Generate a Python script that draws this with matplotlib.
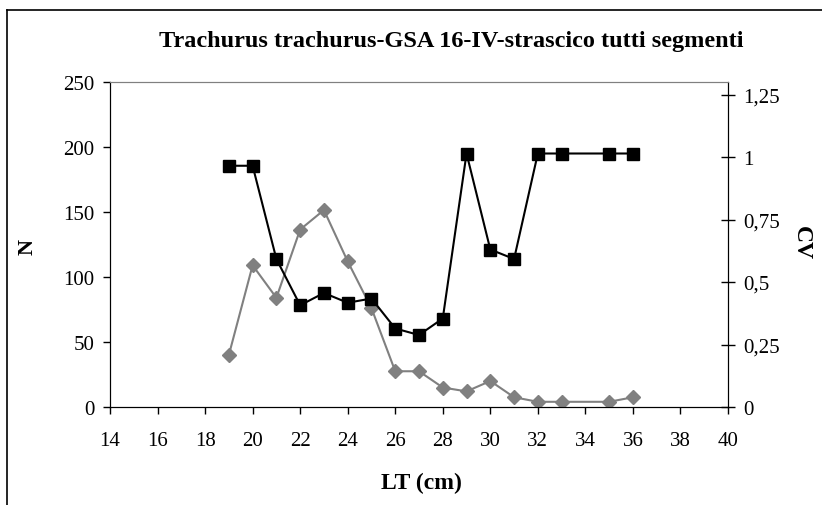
import matplotlib
matplotlib.use("Agg")
import matplotlib.pyplot as plt
from matplotlib.lines import Line2D
from matplotlib.ticker import FuncFormatter

# lunghezza totale (cm)
lt_n = [19, 20, 21, 22, 23, 24, 25, 26, 27, 28, 29, 30, 31, 32, 33, 35, 36]
n_vals = [40, 109, 84, 136.5, 151.5, 112, 76, 27.5, 27.5, 15, 12, 20, 7.5, 4, 4, 4, 7.5]

lt_cv = [19, 20, 21, 22, 23, 24, 25, 26, 27, 28, 29, 30, 31, 32, 33, 35, 36]
cv_vals = [0.965, 0.965, 0.592, 0.407, 0.456, 0.417, 0.434, 0.314, 0.288, 0.354,
           1.014, 0.630, 0.592, 1.014, 1.014, 1.014, 1.014]

x_ticks = list(range(14, 41, 2))
n_ticks = [0, 50, 100, 150, 200, 250]
cv_ticks = [0, 0.25, 0.5, 0.75, 1, 1.25]

title = "Trachurus trachurus-GSA 16-IV-strascico tutti segmenti"

plt.rcParams['font.family'] = ['Liberation Serif', 'DejaVu Serif']

W, H = 822, 506
fig = plt.figure(figsize=(W / 100, H / 100), dpi=100)
ax = fig.add_axes([110/W, 1 - 408/H, (728-110)/W, (408-83)/H])
ax2 = ax.twinx()

gray = "#808080"
ax.plot(lt_n, n_vals, color=gray, lw=1.5, marker="D", ms=7, mec=gray, mfc=gray, zorder=3)
ax2.plot(lt_cv, cv_vals, color="black", lw=1.5, marker="s", ms=8, mec="black", mfc="black", zorder=4)

ax.set_xlim(14, 40)
ax.set_ylim(0, 250)
ax2.set_ylim(0, 1.3)
ax.set_xticks(x_ticks)
ax.set_yticks(n_ticks)
ax2.set_yticks(cv_ticks)
ax2.yaxis.set_major_formatter(FuncFormatter(lambda v, p: f"{v:g}".replace(".", ",")))

fs = 15
ax.tick_params(axis="x", direction="out", length=5, width=1, labelsize=fs, pad=12)
ax.tick_params(axis="y", direction="out", length=5, width=1, labelsize=fs, pad=6)
ax2.tick_params(axis="y", direction="inout", length=10, width=1, labelsize=fs, pad=6)

for a in (ax, ax2):
    a.spines["top"].set_color(gray)
    a.spines["left"].set_color("black")
    a.spines["right"].set_color("black")
    a.spines["bottom"].set_color("black")

# titoli assi e titolo grafico
fig.text(421/W, 1 - 483/H, "LT (cm)", ha="center", va="center", fontsize=17, fontweight="bold")
fig.text(28/W, 1 - 247/H, "N", ha="center", va="center", fontsize=16, fontweight="bold", rotation=90)
fig.text(801/W, 1 - 243/H, "CV", ha="center", va="center", fontsize=17, fontweight="bold", rotation=-90)
fig.text(451/W, 1 - 42/H, title, ha="center", va="center", fontsize=17.5, fontweight="bold")

# cornice esterna del grafico (solo lati sinistro e superiore visibili)
fig.add_artist(Line2D([7/W, 7/W], [0, 1 - 11/H], transform=fig.transFigure, color="black", lw=1.2))
fig.add_artist(Line2D([7/W, 1], [1 - 11/H, 1 - 11/H], transform=fig.transFigure, color="black", lw=1.2))

fig.savefig("out.png", dpi=100)
